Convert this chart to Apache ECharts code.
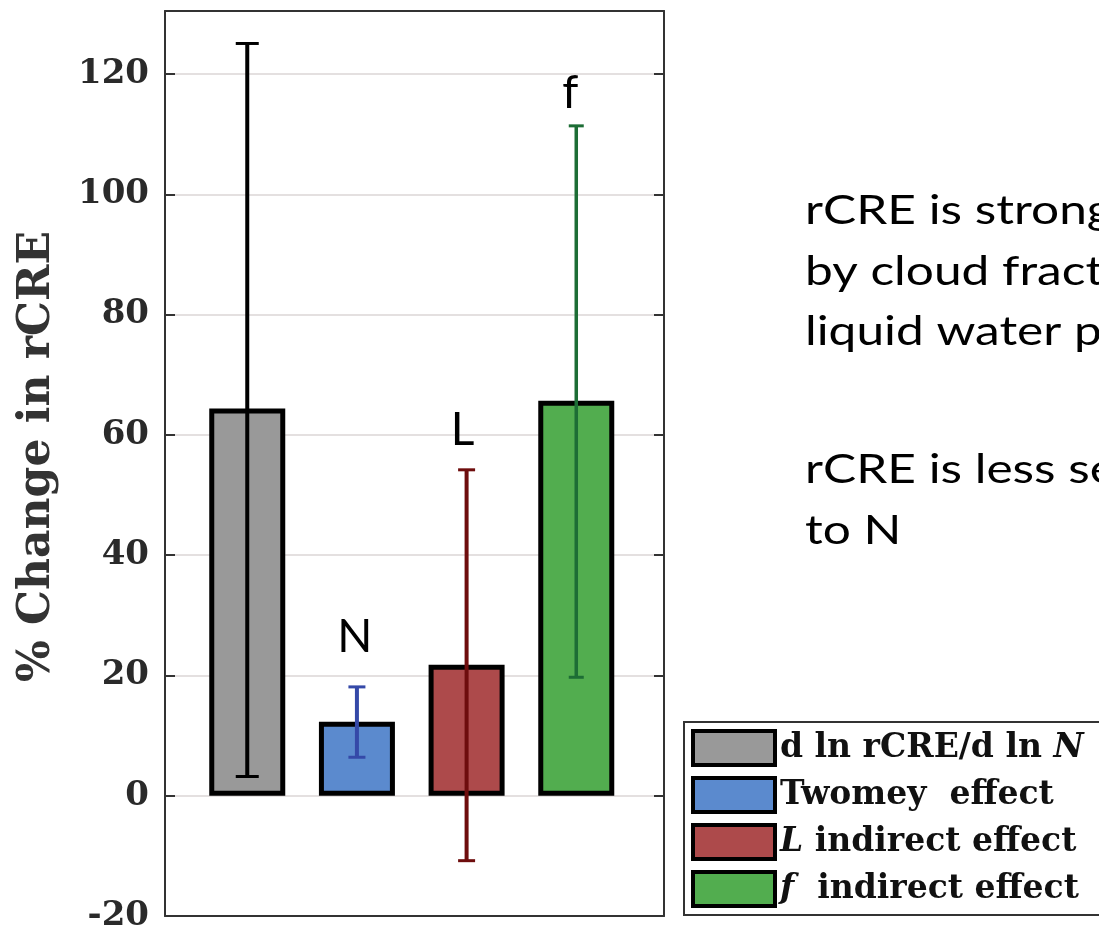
<!DOCTYPE html>
<html>
<head>
<meta charset="utf-8">
<script src="https://cdn.jsdelivr.net/npm/echarts@6/dist/echarts.min.js"></script>
<style>
  html, body { margin: 0; padding: 0; background: #ffffff; }
  #chart { width: 1099px; height: 929px; }
</style>
</head>
<body>
<div id="chart"></div>
<script>
// Percent change in rCRE per component, with uncertainty ranges
const categories = ['d ln rCRE/d ln N', 'Twomey effect', 'L indirect effect', 'f indirect effect'];
const legendLabels = ['{r|d ln rCRE/d ln }{i|N}', '{r|Twomey  effect}', '{i|L}{r| indirect effect}', '{i|f}{r|  indirect effect}'];
const barValues = [64.4, 12.3, 21.8, 65.7];
const errLow = [3.2, 6.4, -10.8, 19.7];
const errHigh = [125.1, 18.1, 54.2, 111.4];
const annotations = ['', 'N', 'L', 'f'];
const yMin = -20, yMax = 130.5, yStep = 20;

const fillColors = ['#999999', '#5b8ace', '#ad4a4b', '#52ad4f'];
const errColors = ['#000000', '#3549a8', '#6e0d0d', '#1d6d35'];
const errWidths = [4, 4, 4, 3.5];
const capWidths = [23, 17, 17, 15];
// annotation placement relative to the top of each error bar (px)
const annoOffsetY = [0, -50, -40, -33];
const annoOffsetX = [0, -2, -4, -6];

const serif = 'DejaVu Serif';
const sans = 'Lato';

const chart = echarts.init(document.getElementById('chart'), null, { renderer: 'canvas' });

const barSeries = categories.map((name, i) => ({
  name: name,
  type: 'bar',
  xAxisIndex: 0,
  yAxisIndex: 0,
  barWidth: 76,
  barGap: '-100%',
  data: [[i + 1, barValues[i]]],
  itemStyle: { color: fillColors[i], borderColor: '#000', borderWidth: 5 },
  emphasis: { disabled: true },
  z: 3
}));

const errSeries = {
  type: 'custom',
  xAxisIndex: 0,
  yAxisIndex: 0,
  clip: false,
  z: 5,
  silent: true,
  data: categories.map((c, i) => [i + 1, errLow[i], errHigh[i]]),
  encode: { x: 0, y: [1, 2] },
  renderItem: function (params, api) {
    const i = params.dataIndex;
    const x = api.value(0);
    const lo = api.coord([x, api.value(1)]);
    const hi = api.coord([x, api.value(2)]);
    const half = capWidths[i] / 2;
    const st = { stroke: errColors[i], lineWidth: errWidths[i] };
    const capSt = { stroke: errColors[i], lineWidth: 3 };
    const children = [
      { type: 'line', shape: { x1: hi[0], y1: hi[1], x2: lo[0], y2: lo[1] }, style: st },
      { type: 'line', shape: { x1: hi[0] - half, y1: hi[1], x2: hi[0] + half, y2: hi[1] }, style: capSt },
      { type: 'line', shape: { x1: lo[0] - half, y1: lo[1], x2: lo[0] + half, y2: lo[1] }, style: capSt }
    ];
    if (annotations[i]) {
      children.push({
        type: 'text',
        style: {
          text: annotations[i],
          x: hi[0] + annoOffsetX[i],
          y: hi[1] + annoOffsetY[i],
          align: 'center',
          verticalAlign: 'middle',
          fontFamily: sans,
          fontSize: 46,
          fill: '#000'
        }
      });
    }
    return { type: 'group', children: children };
  }
};

const frameLine = { show: true, onZero: false, lineStyle: { color: '#333', width: 2 } };

chart.setOption({
  animation: false,
  backgroundColor: '#ffffff',
  grid: { left: 165, right: 435, top: 11, bottom: 13, containLabel: false, outerBoundsMode: 'none' },
  xAxis: [
    { type: 'value', min: 0.25, max: 4.8, position: 'bottom',
      axisLine: frameLine, axisTick: { show: false }, axisLabel: { show: false }, splitLine: { show: false } },
    { type: 'value', min: 0.25, max: 4.8, position: 'top',
      axisLine: frameLine, axisTick: { show: false }, axisLabel: { show: false }, splitLine: { show: false } }
  ],
  yAxis: [
    {
      type: 'value', min: yMin, max: yMax, interval: yStep, position: 'left',
      name: '% Change in rCRE', nameLocation: 'middle', nameRotate: 90, nameGap: 105,
      nameTextStyle: { fontFamily: serif, fontWeight: 'bold', fontSize: 44, color: '#333', padding: [0, 0, 0, 14] },
      axisLine: frameLine,
      axisTick: { show: true, inside: true, length: 10, lineStyle: { color: '#333', width: 2 } },
      axisLabel: { showMaxLabel: false, margin: 16, fontFamily: serif, fontWeight: 'bold', fontSize: 34, color: '#2a2a2a' },
      splitLine: { show: true, lineStyle: { color: '#e4e0e0', width: 2 } }
    },
    {
      type: 'value', min: yMin, max: yMax, interval: yStep, position: 'right',
      axisLine: frameLine,
      axisTick: { show: true, inside: true, length: 10, lineStyle: { color: '#333', width: 2 } },
      axisLabel: { show: false },
      splitLine: { show: false }
    }
  ],
  legend: {
    orient: 'vertical',
    left: 683,
    top: 721,
    height: 200,
    padding: [8, 10, 8, 8],
    itemGap: 9,
    itemWidth: 82,
    itemHeight: 34,
    icon: 'rect',
    selectedMode: false,
    z: 10,
    data: categories,
    itemStyle: { borderColor: '#000', borderWidth: 4 },
    formatter: function (name) { return legendLabels[categories.indexOf(name)]; },
    textStyle: {
      fontFamily: serif, fontWeight: 'bold', fontSize: 33, color: '#111', lineHeight: 34,
      rich: {
        r: { fontFamily: serif, fontWeight: 'bold', fontSize: 33, color: '#111', lineHeight: 34 },
        i: { fontFamily: serif, fontWeight: 'bold', fontStyle: 'italic', fontSize: 33, color: '#111', lineHeight: 34 }
      }
    }
  },
  graphic: [
    {
      // legend frame, running past the right edge
      type: 'rect', z: 1, silent: true,
      shape: { x: 684, y: 722, width: 500, height: 193 },
      style: { fill: '#ffffff', stroke: '#333', lineWidth: 2 }
    },
    {
      type: 'text', x: 805, y: 181, scaleX: 1.21, silent: true,
      style: {
        x: 0, y: 0, verticalAlign: 'top', align: 'left',
        text: 'rCRE is strongly modulated\nby cloud fraction and\nliquid water path',
        fontFamily: sans, fontSize: 41, lineHeight: 60.5, fill: '#000'
      }
    },
    {
      type: 'text', x: 805, y: 440, scaleX: 1.21, silent: true,
      style: {
        x: 0, y: 0, verticalAlign: 'top', align: 'left',
        text: 'rCRE is less sensitive\nto N',
        fontFamily: sans, fontSize: 41, lineHeight: 60.5, fill: '#000'
      }
    }
  ],
  series: barSeries.concat([errSeries])
});
</script>
</body>
</html>
